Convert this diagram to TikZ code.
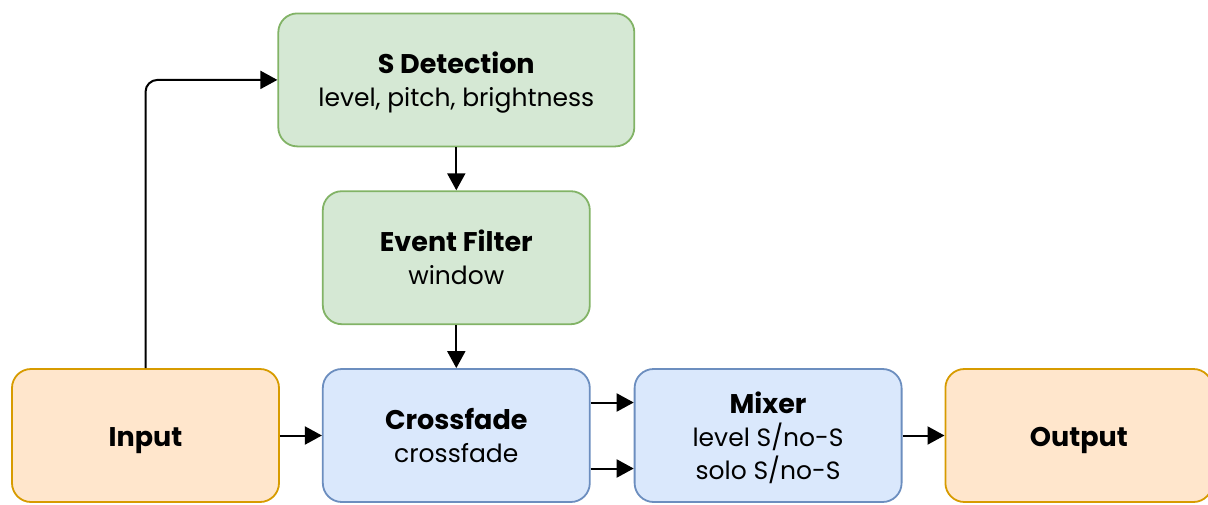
\documentclass[tikz,border=0pt]{standalone}
\usepackage{fontspec}
\setmainfont{Poppins}
\usetikzlibrary{arrows.meta, positioning}
\definecolor{grnfill}{HTML}{D5E8D4}
\definecolor{grnline}{HTML}{82B366}
\definecolor{blufill}{HTML}{DAE8FC}
\definecolor{bluline}{HTML}{6C8EBF}
\definecolor{orgfill}{HTML}{FFE6CC}
\definecolor{orgline}{HTML}{D79B00}
% block title, set a bit larger than the body lines; the rule fixes the first line's height
\newcommand{\blkhead}[1]{{\fontsize{27}{33}\selectfont\bfseries\rule{0pt}{30pt}#1}}
\tikzset{
  blk/.style ={draw, rounded corners=19pt, minimum width=267pt, minimum height=133pt,
               line width=1.8pt, align=center, inner sep=0pt, font=\fontsize{25}{33}\selectfont,
               execute at end node={\rule[-9pt]{0pt}{9pt}}},
  stage/.style={blk, fill=grnfill, draw=grnline},
  proc/.style ={blk, fill=blufill, draw=bluline},
  io/.style   ={blk, fill=orgfill, draw=orgline},
  flow/.style ={-{Triangle[length=17pt, width=18pt]}, line width=2pt},
}

\begin{document}
\begin{tikzpicture}[x=1pt, y=-1pt]
  \useasboundingbox (0,0) rectangle (1208,504);
  % bottom row, left to right
  \node[io] (in) at (145.5,435.5) {\blkhead{Input}};
  \node[proc, right=42pt of in]  (xf)  {\blkhead{Crossfade}\\crossfade};
  \node[proc, right=43pt of xf]  (mix) {\blkhead{Mixer}\\level S/no-S\\solo S/no-S};
  \node[io,   right=42pt of mix] (out) {\blkhead{Output}};
  % detection chain above the crossfade
  \node[stage, above=43pt of xf] (ef) {\blkhead{Event Filter}\\window};
  \node[stage, minimum width=356pt, above=43pt of ef] (sd) {\blkhead{S Detection}\\level, pitch, brightness};

  \draw[flow, rounded corners=12pt] (in.north) |- (sd.west);
  \draw[flow] (sd) -- (ef);
  \draw[flow] (ef) -- (xf);
  \draw[flow] (in) -- (xf);
  \draw[flow] ([yshift=33pt]xf.east) -- ([yshift=33pt]mix.west);
  \draw[flow] ([yshift=-33pt]xf.east) -- ([yshift=-33pt]mix.west);
  \draw[flow] (mix) -- (out);
\end{tikzpicture}
\end{document}
